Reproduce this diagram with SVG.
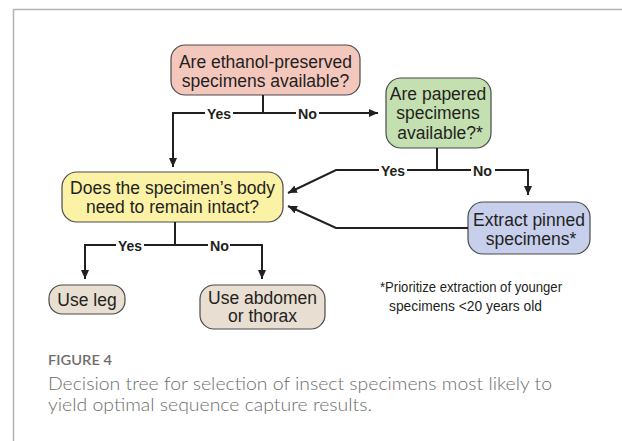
<svg xmlns="http://www.w3.org/2000/svg" width="622" height="441" viewBox="0 0 622 441">
<defs>
<style>
.nt{font-family:"Liberation Sans",Arial,sans-serif;font-size:17.5px;fill:#231f20;text-anchor:middle}
.lb{font-family:"Liberation Sans",Arial,sans-serif;font-size:15px;font-weight:bold;fill:#231f20}
.fn{font-family:"Liberation Sans",Arial,sans-serif;font-size:15px;fill:#231f20}
.box{stroke:#4a4a4a;stroke-width:1.2}
.cn{fill:none;stroke:#231f20;stroke-width:2}
.cap{font-family:Lato,"Open Sans",sans-serif;fill:#6e6e6e}
</style>
<marker id="ah" markerUnits="userSpaceOnUse" markerWidth="10" markerHeight="10" refX="9" refY="4" orient="auto">
<path d="M0,0 L9,4 L0,8 z" fill="#231f20"/>
</marker>
</defs>
<rect x="0" y="0" width="622" height="441" fill="#ffffff"/>
<path d="M13.5,441 V9.5 H622" fill="none" stroke="#b4b4b4" stroke-width="1.5"/>

<g id="n-ethanol">
<rect class="box" x="171" y="45" width="189" height="50" rx="14" fill="#f4c7bd"/>
<text class="nt" x="265.5" y="67.5">Are ethanol-preserved</text>
<text class="nt" x="265.5" y="86.5">specimens available?</text>
</g>
<g id="n-papered">
<rect class="box" x="386" y="78" width="105" height="70" rx="15" fill="#c4dfb0"/>
<text class="nt" x="438" y="99.5">Are papered</text>
<text class="nt" x="438" y="119">specimens</text>
<text class="nt" x="440" y="138.5">available?*</text>
</g>
<g id="n-intact">
<rect class="box" x="62" y="172" width="221" height="50" rx="15" fill="#fcf2a6"/>
<text class="nt" x="172.5" y="194">Does the specimen’s body</text>
<text class="nt" x="172.5" y="213">need to remain intact?</text>
</g>
<g id="n-pinned">
<rect class="box" x="468" y="202" width="122" height="52" rx="15" fill="#c7cfec"/>
<text class="nt" x="529" y="225.5">Extract pinned</text>
<text class="nt" x="531" y="244.5">specimens*</text>
</g>
<g id="n-leg">
<rect class="box" x="49" y="285" width="76" height="29" rx="13" fill="#e8ded1"/>
<text class="nt" x="87" y="305.5">Use leg</text>
</g>
<g id="n-abdomen">
<rect class="box" x="200" y="285" width="125" height="44" rx="14" fill="#e8ded1"/>
<text class="nt" x="262.5" y="303.5">Use abdomen</text>
<text class="nt" x="262.5" y="322">or thorax</text>
</g>

<g id="connectors">
<path class="cn" d="M263,95 V113"/>
<path class="cn" d="M205,113 H173 V167" marker-end="url(#ah)"/>
<path class="cn" d="M233,113 H296"/>
<path class="cn" d="M319,113 H378" marker-end="url(#ah)"/>
<text class="lb" x="207" y="118.5" textLength="24" lengthAdjust="spacingAndGlyphs">Yes</text>
<text class="lb" x="298" y="118.5" textLength="19" lengthAdjust="spacingAndGlyphs">No</text>

<path class="cn" d="M379,170 H336 L288,193" marker-end="url(#ah)"/>
<path class="cn" d="M437,148 V170"/>
<path class="cn" d="M407,170 H471"/>
<path class="cn" d="M495,170 H528 V195" marker-end="url(#ah)"/>
<text class="lb" x="381" y="175.5" textLength="24" lengthAdjust="spacingAndGlyphs">Yes</text>
<text class="lb" x="473" y="175.5" textLength="19" lengthAdjust="spacingAndGlyphs">No</text>

<path class="cn" d="M468,228 H336 L288,206" marker-end="url(#ah)"/>

<path class="cn" d="M175,222 V245"/>
<path class="cn" d="M116,245 H85 V279" marker-end="url(#ah)"/>
<path class="cn" d="M144,245 H208"/>
<path class="cn" d="M230,245 H262 V279" marker-end="url(#ah)"/>
<text class="lb" x="118" y="250.5" textLength="24" lengthAdjust="spacingAndGlyphs">Yes</text>
<text class="lb" x="210" y="250.5" textLength="19" lengthAdjust="spacingAndGlyphs">No</text>
</g>

<text class="fn" x="380" y="292" textLength="182" lengthAdjust="spacingAndGlyphs">*Prioritize extraction of younger</text>
<text class="fn" x="389" y="311" textLength="153" lengthAdjust="spacingAndGlyphs">specimens &lt;20 years old</text>

<text class="cap" x="48" y="365" font-size="13.5" font-weight="600" textLength="64" lengthAdjust="spacingAndGlyphs">FIGURE 4</text>
<text class="cap" x="48" y="390" font-size="18.5" font-weight="300" textLength="504" lengthAdjust="spacingAndGlyphs">Decision tree for selection of insect specimens most likely to</text>
<text class="cap" x="48" y="411" font-size="18.5" font-weight="300" textLength="324" lengthAdjust="spacingAndGlyphs">yield optimal sequence capture results.</text>
</svg>
